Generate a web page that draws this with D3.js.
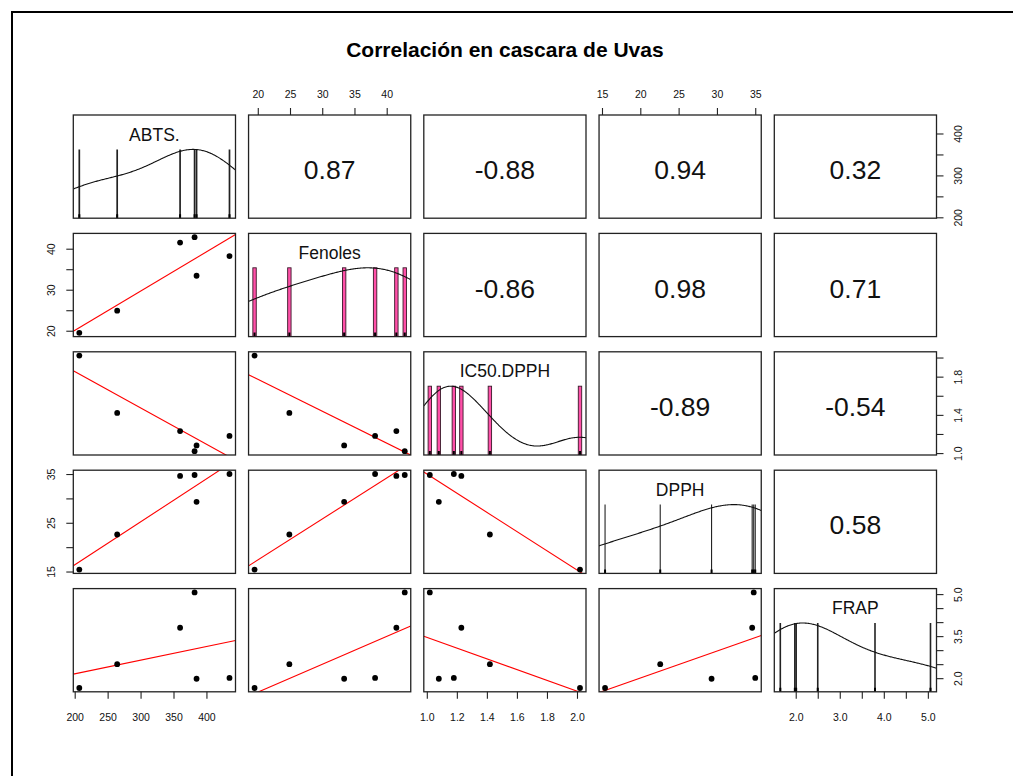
<!DOCTYPE html>
<html>
<head>
<meta charset="utf-8">
<script src="https://cdn.jsdelivr.net/npm/d3@7"></script>
<style>
  html, body { margin: 0; padding: 0; background: #fff; }
  svg { display: block; font-family: "Liberation Sans", Arial, sans-serif; }
</style>
</head>
<body>
<svg id="chart" width="1013" height="776"></svg>
<script>
// ---------------- data ----------------
const title = "Correlación en cascara de Uvas";
const variables = ["ABTS.", "Fenoles", "IC50.DPPH", "DPPH", "FRAP"];
const abts    = [207, 264.5, 360, 382, 385, 435];
const fenoles = [19.5, 24.9, 41.5, 42.8, 33.4, 38.2];
const ic50    = [2.02, 1.42, 1.23, 1.02, 1.08, 1.18];
const dpph    = [15.4, 22.6, 34.6, 34.8, 29.3, 35.0];
const frap    = [1.65, 2.50, 3.80, 5.06, 1.98, 2.01];
const seriesValues = [abts, fenoles, ic50, dpph, frap];

// correlation labels (upper triangle, row by row)
const corRow1 = ["0.87", "-0.88", "0.94", "0.32"];
const corRow2 = ["-0.86", "0.98", "0.71"];
const corRow3 = ["-0.89", "-0.54"];
const corRow4 = ["0.58"];
const corRows = [corRow1, corRow2, corRow3, corRow4];

// tick values per variable
const ticksABTS    = [200, 250, 300, 350, 400];
const ticksFenoles = [20, 25, 30, 35, 40];
const ticksIC50    = [1.0, 1.2, 1.4, 1.6, 1.8, 2.0];
const ticksDPPH    = [15, 20, 25, 30, 35];
const ticksFRAP    = [2.0, 2.5, 3.0, 3.5, 4.0, 4.5, 5.0];
const tickSets = [ticksABTS, ticksFenoles, ticksIC50, ticksDPPH, ticksFRAP];

// tick labels actually printed on each axis
const labelsBottomABTS = ["200", "250", "300", "350", "400"];
const labelsTopFenoles = ["20", "25", "30", "35", "40"];
const labelsBottomIC50 = ["1.0", "1.2", "1.4", "1.6", "1.8", "2.0"];
const labelsTopDPPH    = ["15", "20", "25", "30", "35"];
const labelsBottomFRAP = ["2.0", "3.0", "4.0", "5.0"];
const labelsRightABTS  = ["200", "300", "400"];
const labelsLeftFenoles= ["20", "30", "40"];
const labelsRightIC50  = ["1.0", "1.4", "1.8"];
const labelsLeftDPPH   = ["15", "25", "35"];
const labelsRightFRAP  = ["2.0", "3.5", "5.0"];

// ---------------- layout / style ----------------
const colX0 = 73.3, colStep = 175.25, panelW = 162.2;
const rowY0 = 115, rowStep = 118.4, panelH = 103.2;
const barWidthPx = [1.7, 3.4, 3.4, 1.1, 1.6];
const barFill = "#ff4fa8";
const tickLen = 7;

const svg = d3.select("#chart");
const n = variables.length;

// outer frame
svg.append("rect").attr("x", 12).attr("y", 12).attr("width", 1010).attr("height", 800)
  .attr("fill", "none").attr("stroke", "#000").attr("stroke-width", 2);

// title
svg.append("text").attr("x", colX0 + (colStep * (n - 1) + panelW) / 2).attr("y", 57)
  .attr("text-anchor", "middle").attr("font-weight", "bold").attr("font-size", 21)
  .attr("fill", "#000").text(title);

// scales
const xScales = [], yScales = [];
seriesValues.forEach((vals, k) => {
  const ext = d3.extent(vals);
  const pad = (ext[1] - ext[0]) * 0.04;
  const dom = [ext[0] - pad, ext[1] + pad];
  const x0 = colX0 + k * colStep, y0 = rowY0 + k * rowStep;
  xScales.push(d3.scaleLinear().domain(dom).range([x0, x0 + panelW]));
  yScales.push(d3.scaleLinear().domain(dom).range([y0 + panelH, y0]));
});

const defs = svg.append("defs");

function panelBox(i, j) {
  return { x: colX0 + j * colStep, y: rowY0 + i * rowStep, w: panelW, h: panelH };
}

// R-style density (bw = "nrd", adjust = 1.2)
function densityCurve(vals, xs) {
  const sd = d3.deviation(vals);
  const sorted = vals.slice().sort(d3.ascending);
  const iqr = d3.quantileSorted(sorted, 0.75) - d3.quantileSorted(sorted, 0.25);
  const bw = 1.2 * 1.06 * Math.min(sd, iqr / 1.34) * Math.pow(vals.length, -0.2);
  const k = x => d3.sum(vals, v => Math.exp(-0.5 * ((x - v) / bw) ** 2));
  const lo = d3.min(vals) - 3 * bw, hi = d3.max(vals) + 3 * bw;
  const grid = d3.range(512).map(t => lo + (hi - lo) * t / 511);
  const maxD = d3.max(grid, k);
  return xs.map(x => [x, k(x) / maxD]);
}

for (let i = 0; i < n; i++) {
  for (let j = 0; j < n; j++) {
    const b = panelBox(i, j);
    const clipId = `clip-${i}-${j}`;
    defs.append("clipPath").attr("id", clipId)
      .append("rect").attr("x", b.x).attr("y", b.y).attr("width", b.w).attr("height", b.h);
    const g = svg.append("g");
    const inner = g.append("g").attr("clip-path", `url(#${clipId})`);

    if (i === j) {
      const vals = seriesValues[i];
      const xs = xScales[i];
      const yd = d3.scaleLinear().domain([0, 1.5]).range([b.y + b.h, b.y]);
      const bwPx = barWidthPx[i];
      vals.forEach(v => {
        if (bwPx > 2) {
          inner.append("rect").attr("x", xs(v) - bwPx / 2).attr("y", yd(1))
            .attr("width", bwPx).attr("height", yd(0) - yd(1))
            .attr("fill", barFill).attr("stroke", "#3a1a2a").attr("stroke-width", 0.9);
        } else {
          inner.append("line").attr("x1", xs(v)).attr("x2", xs(v))
            .attr("y1", yd(1)).attr("y2", yd(0))
            .attr("stroke", "#222").attr("stroke-width", bwPx);
        }
        // rug
        inner.append("line").attr("x1", xs(v)).attr("x2", xs(v))
          .attr("y1", yd(0)).attr("y2", yd(0) - 4)
          .attr("stroke", "#000").attr("stroke-width", 2);
      });
      const dom = xs.domain();
      const gridX = d3.range(200).map(t => dom[0] + (dom[1] - dom[0]) * t / 199);
      const pts = densityCurve(vals, gridX);
      inner.append("path").datum(pts)
        .attr("d", d3.line().x(d => xs(d[0])).y(d => yd(d[1])))
        .attr("fill", "none").attr("stroke", "#111").attr("stroke-width", 1.1);
      g.append("text").attr("x", b.x + b.w / 2).attr("y", b.y + 25.5)
        .attr("text-anchor", "middle").attr("font-size", 17.5).attr("fill", "#111")
        .text(variables[i]);
    } else if (i > j) {
      const xv = seriesValues[j], yv = seriesValues[i];
      const xs = d3.scaleLinear().domain(xScales[j].domain()).range([b.x, b.x + b.w]);
      const ys = d3.scaleLinear().domain(yScales[i].domain()).range([b.y + b.h, b.y]);
      // least-squares fit
      const mx = d3.mean(xv), my = d3.mean(yv);
      const sxy = d3.sum(xv, (x, k) => (x - mx) * (yv[k] - my));
      const sxx = d3.sum(xv, x => (x - mx) ** 2);
      const slope = sxy / sxx, icpt = my - slope * mx;
      const dom = xs.domain();
      inner.append("line")
        .attr("x1", xs(dom[0])).attr("y1", ys(icpt + slope * dom[0]))
        .attr("x2", xs(dom[1])).attr("y2", ys(icpt + slope * dom[1]))
        .attr("stroke", "#ff0000").attr("stroke-width", 1.1);
      xv.forEach((x, k) => {
        g.append("circle").attr("cx", xs(x)).attr("cy", ys(yv[k])).attr("r", 2.9).attr("fill", "#000");
      });
    } else {
      g.append("text").attr("x", b.x + b.w / 2).attr("y", b.y + b.h / 2 + 12.5)
        .attr("text-anchor", "middle").attr("font-size", 26.5).attr("fill", "#111")
        .text(corRows[i][j - i - 1]);
    }

    g.append("rect").attr("x", b.x).attr("y", b.y).attr("width", b.w).attr("height", b.h)
      .attr("fill", "none").attr("stroke", "#222").attr("stroke-width", 1.3);
  }
}

// ---------------- axes ----------------
function fmtFrom(labels, digits) {
  return d => {
    const s = digits ? d.toFixed(digits) : String(d);
    return labels.includes(s) ? s : "";
  };
}
function styleAxis(g) {
  g.select(".domain").remove();
  g.selectAll(".tick line").attr("stroke", "#222").attr("stroke-width", 1.1);
  g.selectAll(".tick text").attr("fill", "#111").attr("font-size", 10.5)
    .attr("font-family", "Liberation Sans, Arial, sans-serif");
}
const xAxisDefs = [
  { v: 0, side: "bottom", labels: labelsBottomABTS, digits: 0 },
  { v: 1, side: "top", labels: labelsTopFenoles, digits: 0 },
  { v: 2, side: "bottom", labels: labelsBottomIC50, digits: 1 },
  { v: 3, side: "top", labels: labelsTopDPPH, digits: 0 },
  { v: 4, side: "bottom", labels: labelsBottomFRAP, digits: 1 }
];
xAxisDefs.forEach(a => {
  const xs = xScales[a.v];
  if (a.side === "top") {
    const g = svg.append("g").attr("transform", `translate(0,${rowY0})`)
      .call(d3.axisTop(xs).tickValues(tickSets[a.v]).tickSize(tickLen).tickPadding(4)
        .tickFormat(fmtFrom(a.labels, a.digits)));
    styleAxis(g);
    g.selectAll(".tick text").attr("y", -17).attr("dy", 0);
  } else {
    const yb = rowY0 + (n - 1) * rowStep + panelH;
    const g = svg.append("g").attr("transform", `translate(0,${yb})`)
      .call(d3.axisBottom(xs).tickValues(tickSets[a.v]).tickSize(tickLen).tickPadding(4)
        .tickFormat(fmtFrom(a.labels, a.digits)));
    styleAxis(g);
    g.selectAll(".tick text").attr("y", 29).attr("dy", 0);
  }
});
const yAxisDefs = [
  { v: 0, side: "right", labels: labelsRightABTS, digits: 0 },
  { v: 1, side: "left", labels: labelsLeftFenoles, digits: 0 },
  { v: 2, side: "right", labels: labelsRightIC50, digits: 1 },
  { v: 3, side: "left", labels: labelsLeftDPPH, digits: 0 },
  { v: 4, side: "right", labels: labelsRightFRAP, digits: 1 }
];
yAxisDefs.forEach(a => {
  const ys = yScales[a.v];
  if (a.side === "left") {
    const g = svg.append("g").attr("transform", `translate(${colX0},0)`)
      .call(d3.axisLeft(ys).tickValues(tickSets[a.v]).tickSize(tickLen)
        .tickFormat(fmtFrom(a.labels, a.digits)));
    styleAxis(g);
    g.selectAll(".tick text").attr("x", 0).attr("dy", 0).attr("text-anchor", "middle")
      .attr("transform", "translate(-18.5,0) rotate(-90)");
  } else {
    const xr = colX0 + (n - 1) * colStep + panelW;
    const g = svg.append("g").attr("transform", `translate(${xr},0)`)
      .call(d3.axisRight(ys).tickValues(tickSets[a.v]).tickSize(tickLen)
        .tickFormat(fmtFrom(a.labels, a.digits)));
    styleAxis(g);
    g.selectAll(".tick text").attr("x", 0).attr("dy", 0).attr("text-anchor", "middle")
      .attr("transform", "translate(25,0) rotate(-90)");
  }
});
</script>
</body>
</html>
